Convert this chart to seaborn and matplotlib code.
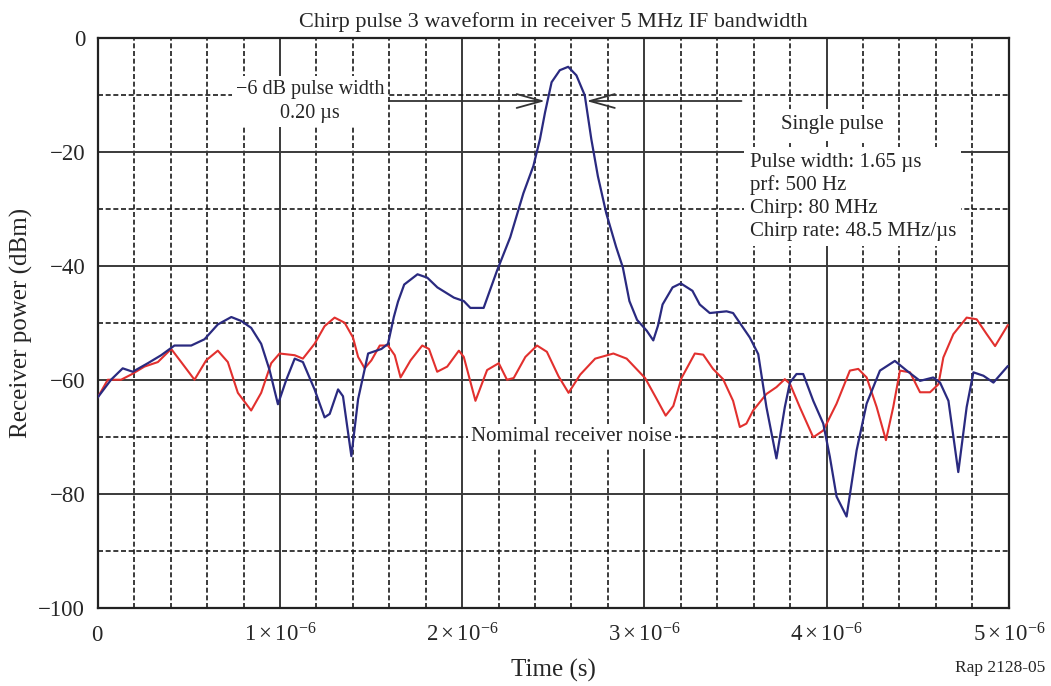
import numpy as np
import pandas as pd
import matplotlib
matplotlib.use("Agg")
import matplotlib.pyplot as plt
import seaborn as sns
from matplotlib.ticker import FixedLocator, MultipleLocator

# ---------------- data (time in microseconds, power in dBm) ----------------
chirp_t_us = [0.000, 0.073, 0.137, 0.192, 0.275, 0.348, 0.421, 0.513, 0.586, 0.659,
              0.733, 0.788, 0.842, 0.897, 0.943, 0.989, 1.035, 1.081, 1.126, 1.190,
              1.245, 1.273, 1.319, 1.346, 1.392, 1.429, 1.484, 1.557, 1.593, 1.625,
              1.648, 1.682, 1.755, 1.809, 1.864, 1.955, 2.009, 2.045, 2.118, 2.191,
              2.264, 2.336, 2.391, 2.427, 2.455, 2.491, 2.536, 2.582, 2.627, 2.673,
              2.709, 2.745, 2.791, 2.845, 2.882, 2.918, 2.960, 3.013, 3.049, 3.075,
              3.100, 3.155, 3.200, 3.264, 3.304, 3.359, 3.451, 3.487, 3.579, 3.625,
              3.670, 3.725, 3.771, 3.799, 3.835, 3.872, 3.927, 3.982, 4.018, 4.055,
              4.110, 4.165, 4.220, 4.293, 4.375, 4.440, 4.513, 4.586, 4.623, 4.669,
              4.723, 4.769, 4.806, 4.861, 4.916, 4.995]
chirp_dbm = [-63.1, -60.0, -58.0, -58.6, -57.1, -55.7, -54.0, -54.0, -52.9, -50.3,
             -49.0, -49.7, -50.9, -53.7, -58.3, -64.3, -60.0, -56.3, -56.9, -61.7,
             -66.6, -66.0, -61.7, -62.9, -73.4, -63.4, -55.4, -54.6, -53.7, -49.0,
             -46.3, -43.3, -41.5, -42.1, -43.8, -45.6, -46.2, -47.4, -47.4, -40.9,
             -35.0, -27.3, -22.5, -17.8, -13.1, -7.8, -5.7, -5.1, -6.6, -10.1,
             -17.8, -24.3, -30.8, -36.7, -40.3, -46.2, -49.5, -51.4, -53.1, -50.5,
             -46.8, -43.8, -43.1, -44.4, -46.8, -48.3, -48.0, -48.3, -52.6, -55.5,
             -64.8, -73.8, -64.8, -60.5, -59.0, -59.0, -63.7, -67.7, -73.5, -80.5,
             -84.0, -72.4, -64.2, -58.4, -56.7, -58.4, -60.2, -59.6, -60.5, -63.7,
             -76.2, -64.8, -58.7, -59.3, -60.5, -57.6]

noise_t_us = [0.000, 0.055, 0.128, 0.183, 0.256, 0.330, 0.403, 0.458, 0.531, 0.595,
              0.659, 0.714, 0.769, 0.842, 0.897, 0.952, 0.998, 1.081, 1.126, 1.190,
              1.245, 1.300, 1.355, 1.401, 1.429, 1.465, 1.502, 1.548, 1.593, 1.630,
              1.662, 1.717, 1.781, 1.818, 1.863, 1.918, 1.982, 2.009, 2.073, 2.137,
              2.201, 2.246, 2.283, 2.347, 2.411, 2.465, 2.529, 2.584, 2.648, 2.730,
              2.830, 2.903, 3.004, 3.068, 3.117, 3.159, 3.204, 3.277, 3.323, 3.377,
              3.432, 3.487, 3.524, 3.560, 3.597, 3.670, 3.725, 3.771, 3.799, 3.853,
              3.927, 3.982, 4.055, 4.128, 4.174, 4.220, 4.275, 4.326, 4.366, 4.403,
              4.458, 4.513, 4.568, 4.614, 4.641, 4.696, 4.769, 4.824, 4.879, 4.925,
              4.995]
noise_dbm = [-63.1, -60.0, -60.0, -59.1, -57.7, -56.9, -54.6, -56.9, -60.0, -56.6,
             -54.9, -56.9, -62.3, -65.4, -62.3, -57.1, -55.4, -55.7, -56.3, -53.7,
             -50.6, -49.1, -50.0, -52.6, -56.0, -58.0, -56.6, -54.0, -54.0, -55.7,
             -59.6, -56.6, -54.0, -54.6, -58.6, -57.7, -54.9, -56.0, -63.7, -58.3,
             -57.1, -60.0, -59.7, -56.0, -54.0, -55.1, -59.4, -62.3, -59.1, -56.3,
             -55.4, -56.3, -59.7, -63.4, -66.3, -64.6, -59.7, -55.4, -55.6, -58.1,
             -59.9, -63.7, -68.3, -67.7, -65.4, -62.5, -61.3, -59.9, -60.7, -64.8,
             -70.1, -68.9, -64.2, -58.4, -58.1, -59.6, -64.8, -70.6, -64.8, -58.4,
             -58.7, -62.2, -62.2, -60.8, -56.1, -52.0, -49.1, -49.4, -52.0, -54.1,
             -50.4]

x_tick_values = [0.0, 1e-6, 2e-6, 3e-6, 4e-6, 5e-6]
x_tick_labels = ["$0$", r"$1\times10^{-6}$", r"$2\times10^{-6}$",
                 r"$3\times10^{-6}$", r"$4\times10^{-6}$", r"$5\times10^{-6}$"]
y_tick_values = [0, -20, -40, -60, -80, -100]
y_tick_labels = ["0", "\u221220", "\u221240", "\u221260", "\u221280", "\u2212100"]

chirp_df = pd.DataFrame({"t": np.array(chirp_t_us) * 1e-6, "p": chirp_dbm})
noise_df = pd.DataFrame({"t": np.array(noise_t_us) * 1e-6, "p": noise_dbm})

# ---------------- style ----------------
sns.set_theme(style="white")
plt.rcParams["font.family"] = ["Liberation Serif", "DejaVu Serif"]
plt.rcParams["mathtext.fontset"] = "custom"
plt.rcParams["mathtext.rm"] = "Liberation Serif"
plt.rcParams["mathtext.it"] = "Liberation Serif:italic"
plt.rcParams["axes.unicode_minus"] = True

BLUE = "#2a2a80"
RED = "#e2302e"

fig = plt.figure(figsize=(10.51, 6.86), dpi=100)
ax = fig.add_axes([0.0930, 0.1141, 0.8668, 0.8309])

sns.lineplot(data=noise_df, x="t", y="p", color=RED, lw=1.5, sort=False,
             estimator=None, ax=ax, zorder=3)
sns.lineplot(data=chirp_df, x="t", y="p", color=BLUE, lw=1.6, sort=False,
             estimator=None, ax=ax, zorder=4)

ax.set_xlim(0, 5e-6)
ax.set_ylim(-100, 0)
ax.xaxis.set_major_locator(FixedLocator(x_tick_values))
ax.xaxis.set_minor_locator(MultipleLocator(0.2e-6))
ax.yaxis.set_major_locator(FixedLocator(y_tick_values))
ax.yaxis.set_minor_locator(MultipleLocator(10))
ax.set_xticklabels(x_tick_labels, fontsize=16.5)
ax.set_yticklabels(y_tick_labels, fontsize=16.5)
ax.tick_params(which="both", length=0)
ax.tick_params(axis="x", pad=24)
ax.tick_params(axis="y", pad=9)
for lab in ax.get_xticklabels():
    lab.set_verticalalignment("baseline")

ax.set_axisbelow(True)
ax.grid(which="major", color="#3a3a3a", lw=1.4, ls="-")
ax.grid(which="minor", color="#1a1a1a", lw=1.2, ls=(0, (3, 1.6)))
for s in ax.spines.values():
    s.set_color("#222222")
    s.set_linewidth(1.6)

ax.set_xlabel("Time (s)", fontsize=18)
ax.set_ylabel("Receiver power (dBm)", fontsize=18)
ax.xaxis.set_label_coords(0.5, -0.090)
ax.yaxis.set_label_coords(-0.071, 0.5)
ax.set_title("Chirp pulse 3 waveform in receiver 5 MHz IF bandwidth",
             fontsize=16, pad=8)

# ---------------- annotations ----------------
ANN = 15
ax.text(1.164e-6, -11.2, "\u22126 dB pulse width\n0.20 \u00b5s", ha="center",
        va="center", fontsize=14.5, linespacing=1.3, zorder=6,
        bbox=dict(boxstyle="square,pad=0.2", fc="white", ec="none"))
arrow_kw = dict(arrowstyle="->,head_length=1.8,head_width=0.5", lw=1.3,
                color="#333333", shrinkA=0, shrinkB=0, mutation_scale=10)
ax.annotate("", xy=(2.455e-6, -11.1), xytext=(1.598e-6, -11.1),
            arrowprops=arrow_kw, zorder=6)
ax.annotate("", xy=(2.682e-6, -11.1), xytext=(3.533e-6, -11.1),
            arrowprops=arrow_kw, zorder=6)

ax.text(4.034e-6, -15.3, "Single pulse", ha="center", va="center",
        fontsize=ANN, zorder=6,
        bbox=dict(boxstyle="square,pad=0.3", fc="white", ec="none"))
ax.text(3.578e-6, -27.9,
        "Pulse width: 1.65 \u00b5s\nprf: 500 Hz\nChirp: 80 MHz\nChirp rate: 48.5 MHz/\u00b5s",
        ha="left", va="center", fontsize=ANN, linespacing=1.27, zorder=6,
        bbox=dict(boxstyle="square,pad=0.25", fc="white", ec="none"))
ax.text(2.600e-6, -70.0, "Nomimal receiver noise", ha="center", va="center",
        fontsize=ANN, zorder=6,
        bbox=dict(boxstyle="square,pad=0.15", fc="white", ec="none"))

fig.text(0.9945, 0.020, "Rap 2128-05", ha="right", va="baseline", fontsize=12.5)

fig.savefig("out.png", dpi=100)
